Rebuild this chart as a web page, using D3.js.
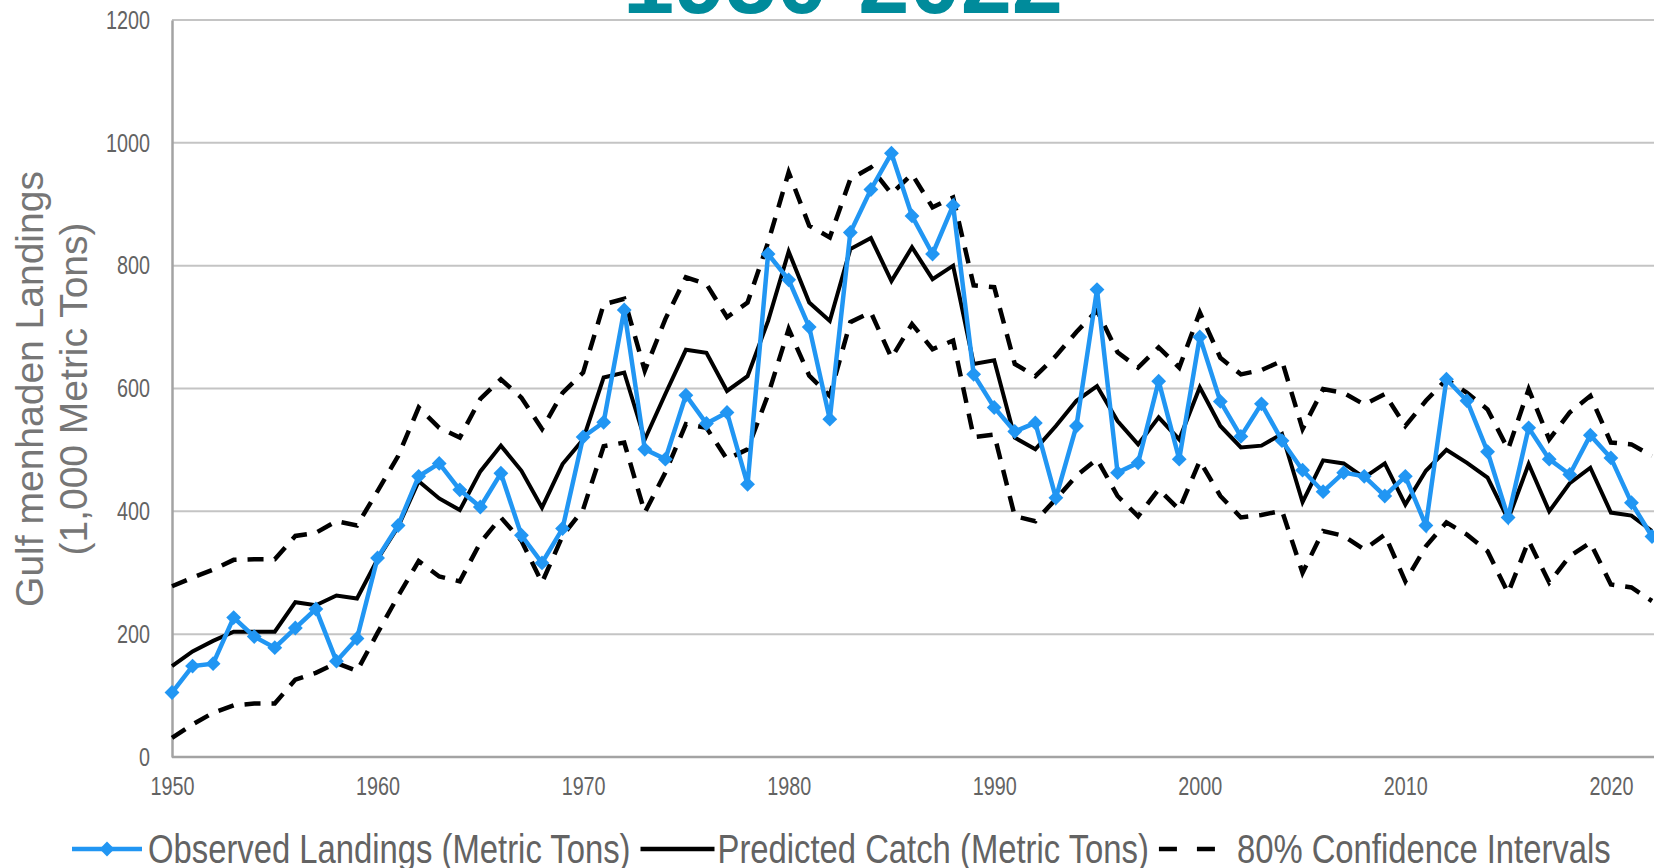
<!DOCTYPE html>
<html>
<head>
<meta charset="utf-8">
<script src="https://cdn.jsdelivr.net/npm/d3@7"></script>
<style>
  body { margin: 0; background: #fff; }
  svg { display: block; }
</style>
</head>
<body>
<div id="chart"></div>
<script>
var svgWidth = 1654;
var svgHeight = 868;

var margin = { top: 20, right: 2, bottom: 111, left: 172 };
var width = svgWidth - margin.left - margin.right;
var height = svgHeight - margin.top - margin.bottom;

// ---- data (thousand metric tons) ----
var years = d3.range(1950, 2023);

var observed = [105, 148, 152, 227, 196, 178, 210, 241, 156, 193,
  324, 377, 457, 478, 435, 407, 462, 361, 316, 372,
  521, 545, 728, 501, 485, 589, 543, 561, 444, 819,
  777, 700, 550, 854, 924, 983, 881, 819, 898, 623,
  569, 530, 544, 422, 539, 761, 463, 479, 612, 485,
  684, 579, 522, 575, 515, 467, 432, 463, 457, 425,
  457, 377, 615, 580, 497, 390, 536, 485, 460, 524,
  487, 414, 359];

var predicted = [148, 172, 189, 204, 204, 204, 252, 247, 263, 258,
  322, 375, 449, 421, 402, 465, 507, 466, 406, 477,
  517, 618, 626, 517, 591, 663, 658, 596, 620, 710,
  823, 740, 710, 827, 845, 775, 830, 778, 800, 640,
  646, 520, 501, 539, 580, 604, 547, 509, 553, 517,
  602, 539, 504, 507, 526, 415, 483, 478, 455, 478,
  411, 466, 500, 479, 455, 387, 477, 400, 446, 471,
  398, 393, 368];

var upperCI = [278, 292, 305, 321, 322, 322, 360, 365, 384, 377,
  433, 490, 569, 536, 520, 583, 615, 585, 534, 593,
  626, 737, 746, 629, 713, 781, 770, 716, 740, 838,
  952, 865, 846, 941, 960, 917, 949, 895, 911, 768,
  765, 640, 620, 653, 692, 727, 659, 634, 667, 634,
  724, 650, 623, 630, 645, 534, 599, 593, 574, 591,
  539, 580, 615, 593, 566, 501, 599, 517, 561, 588,
  512, 509, 490];

var lowerCI = [31, 53, 72, 84, 87, 87, 126, 137, 153, 140,
  202, 262, 319, 294, 286, 349, 390, 352, 284, 360,
  403, 506, 512, 398, 463, 542, 536, 485, 501, 590,
  697, 621, 588, 708, 724, 650, 705, 664, 678, 521,
  525, 392, 384, 420, 458, 485, 425, 392, 436, 403,
  482, 425, 390, 394, 401, 300, 368, 360, 338, 362,
  286, 343, 382, 362, 335, 267, 352, 284, 327, 349,
  281, 276, 254];

var xTicks = [1950, 1960, 1970, 1980, 1990, 2000, 2010, 2020];
var yTicks = [0, 200, 400, 600, 800, 1000, 1200];

var titleText = "1950-2022";
var yTitleLines = ["Gulf menhaden Landings", "(1,000 Metric Tons)"];
var legendLabels = ["Observed Landings (Metric Tons)", "Predicted Catch (Metric Tons)", "80% Confidence Intervals"];

var blue = "#2196F3";
var textGrey = "#636363";

// squeeze text horizontally, the original uses a narrow face
// returns the squeezed width of the last node
function squeeze(sel, k) {
  var out = 0;
  sel.each(function() {
    var w = this.getComputedTextLength();
    out = w * k;
    d3.select(this).attr("textLength", out).attr("lengthAdjust", "spacingAndGlyphs");
  });
  return out;
}

var svg = d3.select("#chart")
  .append("svg")
  .attr("width", svgWidth)
  .attr("height", svgHeight)
  .style("font-family", "'Liberation Sans', Arial, sans-serif");

var chartGroup = svg.append("g")
  .attr("transform", `translate(${margin.left}, ${margin.top})`);

var x = d3.scaleLinear().domain([1950, 2022]).range([0, width]);
var y = d3.scaleLinear().domain([0, 1200]).range([height, 0]);

// gridlines
chartGroup.append("g")
  .selectAll("line")
  .data(yTicks.filter(d => d > 0))
  .enter()
  .append("line")
  .attr("x1", 0)
  .attr("x2", width + margin.right)
  .attr("y1", d => y(d))
  .attr("y2", d => y(d))
  .attr("stroke", "#c4c4c4")
  .attr("stroke-width", 2);

// axes
var leftAxis = d3.axisLeft(y).tickValues(yTicks).tickFormat(d3.format("d")).tickSize(0).tickPadding(22);
var bottomAxis = d3.axisBottom(x).tickValues(xTicks).tickFormat(d3.format("d")).tickSize(0).tickPadding(20);

var yAxis = chartGroup.append("g").call(leftAxis);
var xAxis = chartGroup.append("g")
  .attr("transform", `translate(0, ${height})`)
  .call(bottomAxis);

[xAxis, yAxis].forEach(function(ax) {
  ax.select(".domain").attr("stroke", "#a3a3a3").attr("stroke-width", 2.5);
  ax.selectAll("text")
    .style("font-family", "'Liberation Sans', Arial, sans-serif")
    .style("font-size", "26px")
    .attr("fill", textGrey);
});
xAxis.select(".domain").attr("d", `M0,0H${width + margin.right}`);
squeeze(yAxis.selectAll("text"), 0.76);
squeeze(xAxis.selectAll("text"), 0.76);

// lines
var lineOf = function(vals) {
  return d3.line()
    .x((d, i) => x(years[i]))
    .y(d => y(d))(vals);
};

[upperCI, lowerCI].forEach(function(vals) {
  chartGroup.append("path")
    .attr("d", lineOf(vals))
    .attr("fill", "none")
    .attr("stroke", "#000")
    .attr("stroke-width", 4.5)
    .attr("stroke-dasharray", "16,11");
});

chartGroup.append("path")
  .attr("d", lineOf(predicted))
  .attr("fill", "none")
  .attr("stroke", "#000")
  .attr("stroke-width", 4);

chartGroup.append("path")
  .attr("d", lineOf(observed))
  .attr("fill", "none")
  .attr("stroke", blue)
  .attr("stroke-width", 4.5);

// square turned 45 degrees = Excel style diamond marker
var diamond = d3.symbol().type(d3.symbolSquare).size(110);

chartGroup.selectAll(".obs")
  .data(observed)
  .enter()
  .append("path")
  .attr("class", "obs")
  .attr("d", diamond)
  .attr("transform", (d, i) => `translate(${x(years[i])}, ${y(d)}) rotate(45)`)
  .attr("fill", blue);

// y axis title (two lines)
yTitleLines.forEach(function(t, i) {
  svg.append("text")
    .attr("transform", `translate(${43 + i * 44}, 389) rotate(-90)`)
    .attr("text-anchor", "middle")
    .style("font-size", "39px")
    .attr("fill", "#767676")
    .text(t);
});

// cropped title at the very top
svg.append("text")
  .attr("x", 843)
  .attr("y", 13)
  .attr("text-anchor", "middle")
  .style("font-size", "92px")
  .style("font-weight", "bold")
  .attr("fill", "#008b9b")
  .text(titleText);

// legend
var legendY = 849;
var cursor = 72;
var symbolW = [70, 74, 56];
var gapAfterSymbol = [6, 3, 22];

legendLabels.forEach(function(label, i) {
  var g = svg.append("g");
  var x0 = cursor, x1 = cursor + symbolW[i];
  var ln = g.append("line")
    .attr("x1", x0).attr("x2", x1)
    .attr("y1", legendY).attr("y2", legendY)
    .attr("stroke", i === 0 ? blue : "#000")
    .attr("stroke-width", 4.5);
  if (i === 2) ln.attr("stroke-dasharray", "18,20");
  if (i === 0) {
    g.append("path")
      .attr("d", diamond)
      .attr("transform", `translate(${(x0 + x1) / 2}, ${legendY}) rotate(45)`)
      .attr("fill", blue);
  }
  var txt = g.append("text")
    .attr("x", x1 + gapAfterSymbol[i])
    .attr("y", legendY + 14)
    .style("font-size", "40px")
    .attr("fill", textGrey)
    .text(label);
  var w = squeeze(txt, 0.82);
  cursor = x1 + gapAfterSymbol[i] + w + 10;
});
</script>
</body>
</html>
